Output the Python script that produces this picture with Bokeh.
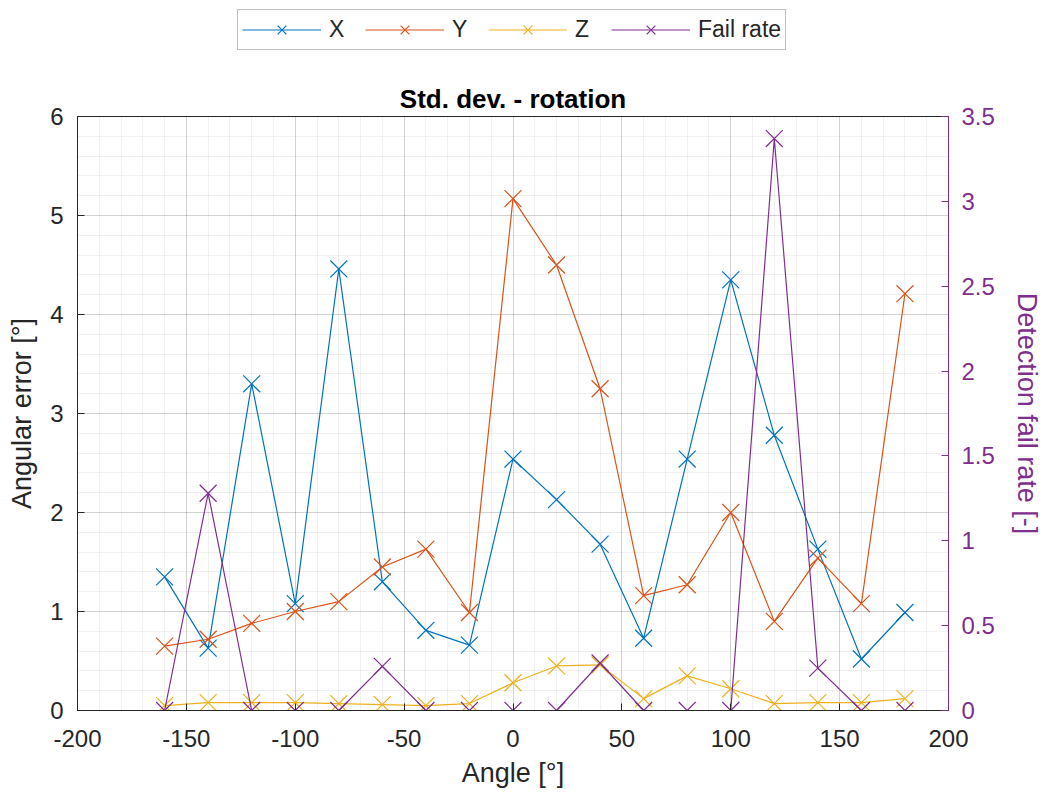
from bokeh.plotting import figure
from bokeh.layouts import column
from bokeh.models import (Range1d, LinearAxis, SingleIntervalTicker, Legend, LegendItem)
from bokeh.embed import file_html
from bokeh.resources import INLINE

angles = [-160, -140, -120, -100, -80, -60, -40, -20, 0, 20, 40, 60, 80, 100, 120, 140, 160, 180]
x_err = [1.35, 0.63, 3.30, 1.08, 4.46, 1.30, 0.81, 0.66, 2.54, 2.13, 1.68, 0.73, 2.54, 4.35, 2.78, 1.63, 0.52, 0.99]
y_err = [0.65, 0.72, 0.88, 1.00, 1.10, 1.45, 1.63, 0.99, 5.17, 4.50, 3.25, 1.16, 1.27, 2.00, 0.90, 1.54, 1.08, 4.21]
z_err = [0.05, 0.08, 0.08, 0.08, 0.07, 0.06, 0.05, 0.07, 0.28, 0.45, 0.46, 0.12, 0.35, 0.22, 0.07, 0.08, 0.08, 0.12]
fail_rate = [0.0, 1.28, 0.0, 0.0, 0.0, 0.26, 0.0, 0.0, 0.0, 0.0, 0.28, 0.0, 0.0, 0.0, 3.37, 0.25, 0.0, 0.0]
series_names = ["X", "Y", "Z", "Fail rate"]
x_ticks = [-200, -150, -100, -50, 0, 50, 100, 150, 200]
x_tick_labels = ["-200", "-150", "-100", "-50", "0", "50", "100", "150", "200"]

C_X, C_Y, C_Z, C_F = "#0072BD", "#D95319", "#EDB120", "#7E2F8E"
colors = [C_X, C_Y, C_Z, C_F]
FONT = "Liberation Sans"
AX = "#262626"
TICK_FS = "24px"
LABEL_FS = "27px"

p = figure(frame_width=871, frame_height=594, output_backend="svg", toolbar_location=None,
           x_range=Range1d(-200, 200), y_range=Range1d(0, 6),
           title="Std. dev. - rotation",
           min_border_left=77, min_border_right=95, min_border_top=56, min_border_bottom=82)
p.title.align = "center"
p.title.text_font = FONT
p.title.text_font_size = "26px"
p.title.text_font_style = "bold"
p.title.text_color = "black"
p.title.standoff = 5
p.title.offset = 0

p.extra_y_ranges = {"fail": Range1d(0, 3.5)}
p.background_fill_color = "white"
p.border_fill_color = "white"
p.outline_line_color = AX
p.outline_line_alpha = 1.0

p.xaxis.ticker = SingleIntervalTicker(interval=50, num_minor_ticks=5)
p.yaxis.ticker = SingleIntervalTicker(interval=1, num_minor_ticks=5)
p.xaxis.major_label_overrides = {t: s for t, s in zip(x_ticks, x_tick_labels)}

for ax in (p.xaxis[0], p.yaxis[0]):
    ax.axis_line_color = AX
    ax.major_tick_line_color = AX
    ax.major_tick_in = 7
    ax.major_tick_out = 0
    ax.minor_tick_line_color = None
    ax.major_label_text_font = FONT
    ax.major_label_text_font_size = TICK_FS
    ax.major_label_text_color = AX
    ax.axis_label_text_font = FONT
    ax.axis_label_text_font_size = LABEL_FS
    ax.axis_label_text_font_style = "normal"
    ax.axis_label_text_color = AX

p.xaxis.axis_label = "Angle [°]"
p.yaxis.axis_label = "Angular error [°]"
p.xaxis.major_label_standoff = 15
p.xaxis.axis_label_standoff = 8
p.yaxis.major_label_standoff = 10
p.yaxis.axis_label_standoff = 10

right = LinearAxis(y_range_name="fail", axis_label="Detection fail rate [-]",
                   ticker=SingleIntervalTicker(interval=0.5, num_minor_ticks=5))
right.axis_line_color = C_F
right.major_tick_line_color = C_F
right.major_tick_in = 7
right.major_tick_out = 0
right.minor_tick_line_color = None
right.major_label_text_color = C_F
right.major_label_text_font = FONT
right.major_label_text_font_size = TICK_FS
right.major_label_standoff = 9
right.axis_label_standoff = 14
right.axis_label_text_color = C_F
right.axis_label_text_font = FONT
right.axis_label_text_font_size = LABEL_FS
right.axis_label_text_font_style = "normal"
p.add_layout(right, "right")

for g in (p.xgrid[0], p.ygrid[0]):
    g.grid_line_color = AX
    g.grid_line_alpha = 0.15
    g.minor_grid_line_color = AX
    g.minor_grid_line_alpha = 0.07

series = [x_err, y_err, z_err, fail_rate]
ranges = ["default", "default", "default", "fail"]
for vals, col, rng in zip(series, colors, ranges):
    p.line(angles, vals, line_color=col, line_width=1.2, y_range_name=rng)
    p.scatter(angles, vals, marker="x", size=24, line_color=col, line_width=1.2, y_range_name=rng)

# legend strip above the axes (outside the plotting frame); its frame is aligned with the main frame
lf = figure(width=1043, height=60, output_backend="svg", toolbar_location=None,
            x_range=Range1d(0, 1), y_range=Range1d(0, 1), min_border=0,
            x_axis_location=None, y_axis_location=None)
lf.grid.visible = False
lf.outline_line_color = None
lf.background_fill_color = "white"
lf.border_fill_color = "white"
items = []
for name, col in zip(series_names, colors):
    ln = lf.line(x=[-5, -4], y=[-5, -4], line_color=col, line_width=1.2)
    sc = lf.scatter(x=[-5], y=[-5], marker="x", size=16, line_color=col, line_width=1.2)
    items.append(LegendItem(label=name, renderers=[ln, sc]))
legend = Legend(items=items, orientation="horizontal", location=(160, 10),
                label_text_font=FONT, label_text_font_size="23px", label_text_color=AX,
                glyph_width=79, glyph_height=31, label_standoff=8, spacing=16,
                padding=4, margin=0,
                border_line_color="#7f7f7f", border_line_width=1.5,
                background_fill_color="white", background_fill_alpha=1.0)
lf.add_layout(legend, "center")

layout = column(lf, p, spacing=0)
open("out.html", "w").write(file_html(layout, INLINE))
